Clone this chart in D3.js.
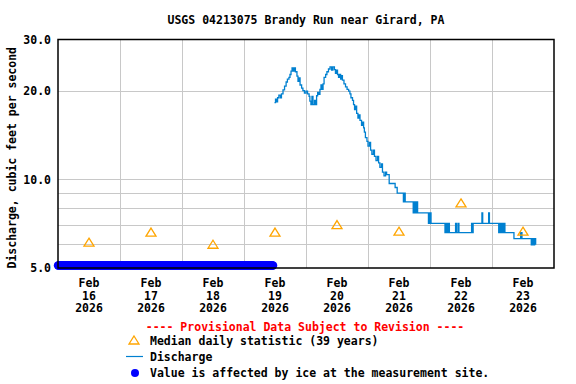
<!DOCTYPE html>
<html>
<head>
<meta charset="utf-8">
<script src="https://cdn.jsdelivr.net/npm/d3@7"></script>
<style>
  body { margin: 0; background: #fff; }
  text { font-family: "DejaVu Sans Mono", monospace; font-weight: bold; }
</style>
</head>
<body>
<div id="app"></div>
<script>
// chart values

const TITLE = 'USGS 04213075 Brandy Run near Girard, PA';
const Y_LABEL = 'Discharge, cubic feet per second';
const Y_TICKS = [5, 10, 20, 30];
const Y_GRID = [6, 7, 8, 9, 10, 20];
const DAYS = ['2026-02-16', '2026-02-17', '2026-02-18', '2026-02-19',
              '2026-02-20', '2026-02-21', '2026-02-22', '2026-02-23'];

// median daily statistic, one per day (plotted at noon)
const MEDIAN_VALUES = [6.1, 6.6, 6.0, 6.6, 7.0, 6.65, 8.3, 6.65];

// ice affected values: constant at the bottom of the plot
const ICE_START = '2026-02-16T00:00';
const ICE_END = '2026-02-19T11:15';
const ICE_VALUE = 5.1;

// discharge breakpoints: hours after Feb 19 00:00, value (step)
const Q_HOURS = [
  11.8, 12.2, 12.6, 13.0, 13.5, 14.1, 14.5, 15.1, 15.7, 16.3, 16.8, 17.4, 17.8, 18.2,
  18.6, 19.0, 19.4, 19.9, 20.5, 20.9, 21.3, 21.7, 22.3, 22.8, 23.4, 24.0, 24.6, 25.2,
  25.5, 25.9, 26.3, 26.7, 27.3, 27.7, 28.1, 28.5, 29.0, 29.4, 29.8, 30.2, 30.6, 31.0,
  31.6, 32.1, 32.7, 33.3, 33.9, 34.4, 35.0, 35.4, 35.8, 36.2, 36.6, 37.0, 37.4, 37.7,
  38.1, 38.7, 39.3, 39.9, 40.5, 41.0, 41.4, 42.0, 42.4, 42.8, 43.2, 43.6, 44.1, 44.5,
  44.9, 45.5, 45.9, 46.3, 46.6, 47.0, 47.6, 48.0, 48.6, 49.0, 49.5, 50.1, 50.5, 51.1,
  51.7, 52.1, 52.6, 53.2, 53.6, 54.2, 54.8, 55.2, 56.2, 58.5, 59.3, 61.7, 62.0, 62.4,
  65.5, 66.0, 66.4, 66.8, 67.2, 71.4, 71.6, 71.9, 72.2, 72.4, 77.8, 78.2, 78.6, 79.0,
  79.5, 81.9, 82.2, 82.8, 83.2, 88.1, 88.4, 88.7, 92.1, 92.4, 94.7, 95.0, 98.6, 98.9,
  99.4, 99.8, 100.2, 100.6, 101.0, 104.5, 107.1, 107.6, 111.2, 111.6, 112.1, 112.5, 112.9
];
const Q_VALUES = [
  18.3, 18.8, 18.4, 19.0, 19.4, 19.0, 19.6, 20.2, 20.8, 21.5, 22.0, 22.3, 22.8, 23.4,
  24.0, 23.4, 24.0, 23.3, 22.5, 21.6, 22.2, 21.0, 20.5, 20.1, 19.7, 20.0, 19.6, 19.2,
  18.5, 18.0, 19.2, 18.0, 18.6, 18.0, 19.3, 19.8, 19.5, 20.3, 21.0, 20.3, 21.2, 22.3,
  22.8, 23.3, 23.8, 24.2, 23.6, 24.2, 23.7, 23.0, 23.6, 22.8, 22.3, 22.8, 22.0, 22.6,
  21.8, 21.2, 20.7, 20.3, 20.0, 19.6, 19.0, 18.6, 18.0, 17.3, 17.8, 16.8, 16.2, 16.6,
  15.9, 15.3, 15.7, 15.0, 14.5, 13.9, 13.5, 13.0, 13.4, 12.6, 12.2, 12.6, 12.0, 11.6,
  12.0, 11.4, 11.0, 11.3, 10.6, 10.3, 10.6, 10.4, 9.7, 9.4, 9.0, 8.4, 9.0, 8.4,
  7.7, 8.4, 7.7, 8.4, 7.7, 7.1, 7.7, 7.1, 7.7, 7.1, 6.6, 7.1, 6.6, 7.1,
  6.6, 7.1, 6.6, 7.1, 6.6, 7.1, 6.6, 7.1, 7.7, 7.1, 7.7, 7.1, 6.6, 7.1,
  6.6, 7.1, 6.6, 7.1, 6.6, 6.3, 6.6, 6.3, 6.0, 6.3, 6.0, 6.3, 6.0
];

const LEGEND = [
  'Median daily statistic (39 years)',
  'Discharge',
  'Value is affected by ice at the measurement site.'
];

const WIDTH = 576, HEIGHT = 384;
const margin = {left: 58, right: 22, top: 39.5, bottom: 116};
const plotW = WIDTH - margin.left - margin.right;
const plotH = HEIGHT - margin.top - margin.bottom;

const parseDay = d3.timeParse('%Y-%m-%d');
const parseTime = d3.timeParse('%Y-%m-%dT%H:%M');
const days = DAYS.map(parseDay);
const noon = days.map(d => d3.timeHour.offset(d, 12));
const qBase = parseDay('2026-02-19');

const x = d3.scaleTime()
  .domain([days[0], d3.timeDay.offset(days[days.length - 1], 1)])
  .range([margin.left, margin.left + plotW]);
const y = d3.scaleLog()
  .domain([5, 30])
  .range([margin.top + plotH, margin.top]);

const svg = d3.select('#app').append('svg')
  .attr('width', WIDTH)
  .attr('height', HEIGHT);

// grid
const midnights = d3.timeDay.range(d3.timeDay.offset(x.domain()[0], 1), x.domain()[1]);
svg.append('g')
  .selectAll('line.vgrid')
  .data(midnights).enter()
  .append('line')
  .attr('x1', d => x(d)).attr('x2', d => x(d))
  .attr('y1', margin.top).attr('y2', margin.top + plotH)
  .style('stroke', '#c8c8c8')
  .style('shape-rendering', 'crispEdges');
svg.append('g')
  .selectAll('line.hgrid')
  .data(Y_GRID).enter()
  .append('line')
  .attr('x1', margin.left).attr('x2', margin.left + plotW)
  .attr('y1', d => y(d)).attr('y2', d => y(d))
  .style('stroke', '#c8c8c8')
  .style('shape-rendering', 'crispEdges');

// ice dots
const iceTimes = d3.timeMinute.every(15).range(parseTime(ICE_START), parseTime(ICE_END));
iceTimes.push(parseTime(ICE_END));
svg.append('g')
  .selectAll('circle')
  .data(iceTimes).enter()
  .append('circle')
  .attr('cx', d => x(d))
  .attr('cy', y(ICE_VALUE))
  .attr('r', 4.2)
  .style('fill', '#0000ff');

// discharge line
const qData = Q_HOURS.map((h, i) => ({t: d3.timeMinute.offset(qBase, Math.round(h * 60)), v: Q_VALUES[i]}));
const line = d3.line()
  .x(d => x(d.t))
  .y(d => y(d.v))
  .curve(d3.curveStepAfter);
svg.append('path')
  .datum(qData)
  .attr('d', line)
  .style('fill', 'none')
  .style('stroke', '#0080d0')
  .style('stroke-width', 1.3);

// median triangles
const tri = 'M0,-4.5L5,3.5L-5,3.5Z';
svg.append('g')
  .selectAll('path')
  .data(MEDIAN_VALUES).enter()
  .append('path')
  .attr('d', tri)
  .attr('transform', (d, i) => `translate(${x(noon[i])},${y(d)})`)
  .style('fill', 'none')
  .style('stroke', '#ffa500')
  .style('stroke-width', 1.3);

// frame
svg.append('rect')
  .attr('x', margin.left).attr('y', margin.top)
  .attr('width', plotW).attr('height', plotH)
  .style('fill', 'none')
  .style('stroke', '#000')
  .style('stroke-width', 1.5);

// y axis
const yAxis = svg.append('g')
  .attr('transform', `translate(${margin.left},0)`)
  .call(d3.axisLeft(y).tickValues(Y_TICKS).tickFormat(d3.format('.1f')).tickSize(0).tickPadding(7));
yAxis.select('.domain').remove();
yAxis.selectAll('text')
  .style('font-size', '11.5px')
  .style('fill', '#000');

// x labels
const fmtMon = d3.timeFormat('%b'), fmtDay = d3.timeFormat('%d'), fmtYr = d3.timeFormat('%Y');
const xl = svg.append('g')
  .selectAll('text')
  .data(noon).enter()
  .append('text')
  .attr('text-anchor', 'middle')
  .style('font-size', '11.5px');
[[fmtMon, 287], [fmtDay, 299.5], [fmtYr, 312]].forEach(([f, yy]) => {
  xl.append('tspan').attr('x', d => x(d)).attr('y', yy).text(d => f(d));
});

// title + y label
svg.append('text')
  .attr('x', 306).attr('y', 23.5)
  .attr('text-anchor', 'middle')
  .style('font-size', '11.5px')
  .text(TITLE);
svg.append('text')
  .attr('transform', `translate(15.5,${margin.top + plotH / 2 + 4}) rotate(-90)`)
  .attr('text-anchor', 'middle')
  .style('font-size', '11.5px')
  .text(Y_LABEL);

// legend
svg.append('text')
  .attr('x', 305).attr('y', 331)
  .attr('text-anchor', 'middle')
  .style('font-size', '11.5px')
  .style('fill', '#ff0000')
  .text('---- Provisional Data Subject to Revision ----');

const lg = svg.append('g');
lg.append('path').attr('d', tri)
  .attr('transform', 'translate(134,340.5)')
  .style('fill', 'none').style('stroke', '#ffa500').style('stroke-width', 1.3);
lg.append('line')
  .attr('x1', 126).attr('x2', 143).attr('y1', 356.5).attr('y2', 356.5)
  .style('stroke', '#0080d0').style('stroke-width', 1.2);
lg.append('circle')
  .attr('cx', 135).attr('cy', 373).attr('r', 4)
  .style('fill', '#0000ff');
lg.selectAll('text')
  .data(LEGEND).enter()
  .append('text')
  .attr('x', 150)
  .attr('y', (d, i) => 345 + i * 16)
  .style('font-size', '11.5px')
  .text(d => d);
</script>
</body>
</html>
